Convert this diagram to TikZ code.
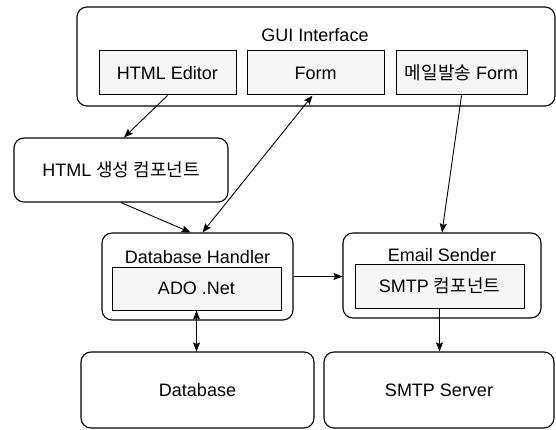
\documentclass[tikz,border=0pt]{standalone}
\usepackage{fontspec}
\setmainfont{Liberation Sans}
\newfontfamily\kr{Noto Sans CJK KR}
\usetikzlibrary{arrows.meta,positioning,calc}
\tikzset{
  % Define standard arrow tip
  >={Stealth[length=9pt,width=7pt,inset=1.5pt]},
  % Define style for the rounded outer boxes
  outer/.style={
    rectangle,
    rounded corners=10pt,
    draw=black, line width=1.1pt,
    inner sep=0pt},
  % Define style for the inner boxes
  inner/.style={
    rectangle,
    draw=black, line width=1pt,
    fill=gray!7,
    inner sep=0pt,
    font=\fontsize{18}{20}\selectfont},
  % box titles
  title/.style={inner sep=0pt, font=\fontsize{18}{20}\selectfont},
  % Define arrow style
  conn/.style={->, line width=0.9pt},
  conn2/.style={<->, line width=0.9pt},
}

\begin{document}
\begin{tikzpicture}[x=1pt, y=-1pt]
  \useasboundingbox (0,0) rectangle (556,430);
  % GUI part
  \node[outer, minimum width=478pt, minimum height=99pt] (gui) at (316,56.5) {};
  \node[title] (guititle) at (315,35) {GUI Interface};
  \node[inner, minimum width=137pt, minimum height=44pt] (htmled) at (167.5,73) {HTML Editor};
  \node[inner, minimum width=137pt, minimum height=44pt] (form) at (315.5,73) {Form};
  \node[inner, minimum width=131pt, minimum height=44pt] (mailform) at (461.5,73) {{\kr 메일발송} Form};
  % components
  \node[outer, minimum width=214pt, minimum height=64pt, font=\fontsize{18}{20}\selectfont] (htmlgen) at (121,170) {HTML {\kr 생성 컴포넌트}};
  \node[outer, minimum width=191pt, minimum height=87pt] (dbh) at (197.5,276.5) {};
  \node[title] (dbhtitle) at (197.5,257) {Database Handler};
  \node[inner, minimum width=169pt, minimum height=43pt] (ado) at (196.5,288.5) {ADO .Net};
  \node[outer, minimum width=198pt, minimum height=85pt] (es) at (442,275.5) {};
  \node[title] (estitle) at (442,255) {Email Sender};
  \node[inner, minimum width=169pt, minimum height=44pt] (smtpc) at (439.5,286) {SMTP {\kr 컴포넌트}};
  % back ends
  \node[outer, minimum width=233pt, minimum height=76pt, font=\fontsize{18}{20}\selectfont] (db) at (197.5,390) {Database};
  \node[outer, minimum width=230pt, minimum height=76pt, font=\fontsize{18}{20}\selectfont] (smtpsrv) at (439,390) {SMTP Server};
  % connectors
  \draw[conn] (htmled.south) -- ($(htmlgen.north)+(3,0)$);
  \draw[conn] (htmlgen.south) -- ($(dbh.north)+(-7,0)$);
  \draw[conn2] ($(form.south)+(-3,0)$) -- ($(dbh.north)+(5,0)$);
  \draw[conn] (mailform.south) -- (es.north);
  \draw[conn] (dbh.east) -- (dbh.east -| es.west);
  \draw[conn2] (ado.south) -- (ado.south |- db.north);
  \draw[conn] (smtpc.south) -- (smtpc.south |- smtpsrv.north);
\end{tikzpicture}
\end{document}
